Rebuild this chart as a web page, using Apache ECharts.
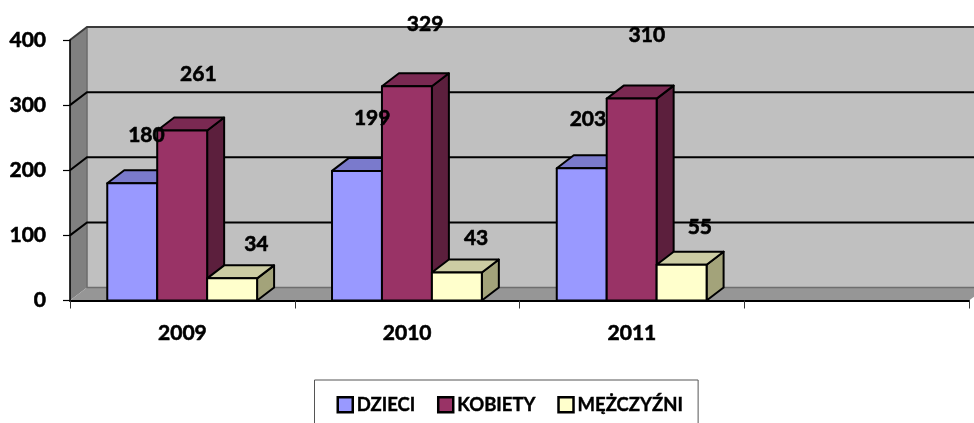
<!DOCTYPE html>
<html><head><meta charset="utf-8">
<style>html,body{margin:0;padding:0;background:#fff;overflow:hidden}#c{width:974px;height:423px}</style>
<script src="https://cdn.jsdelivr.net/npm/echarts@6/dist/echarts.min.js"></script>
</head><body><div id="c"></div>
<script>
const categories = ['2009', '2010', '2011', ''];
const seriesNames = ['DZIECI', 'KOBIETY', 'MĘŻCZYŹNI'];
const dzieci = [180, 199, 203];
const kobiety = [261, 329, 310];
const mezczyzni = [34, 43, 55];
const yTicks = [0, 100, 200, 300, 400];

// layout and style constants
const allValues = [dzieci, kobiety, mezczyzni];
const colors = ['#9999FF', '#993366', '#FFFFCC'];
const topColors = ['#7A7ACC', '#7A2952', '#CCCCA3'];
const sideColors = ['#5C5C99', '#5C1F3D', '#A3A37A'];
const DX = 17, DY = -13, BAR_RATIO = 2 / 9, BAR_NUDGE = -0.2;
// hand-placed label offsets from the top-centre of each bar's front face
const labelShift = [
  [[14, -48], [15, -53], [6, -49]],
  [[16, -56], [18, -62], [15, -63]],
  [[24, -34], [19, -34], [18, -37]]
];
const FONT = 'Lato, "Open Sans", sans-serif';

function band(api) { return api.size([1, 0])[0]; }

function wallItem(params, api) {
  const b = band(api);
  const x0 = api.coord([0, 0])[0] - b / 2;
  const x1 = api.coord([categories.length - 1, 0])[0] + b / 2;
  const y0 = api.coord([0, yTicks[0]])[1];
  const yT = api.coord([0, yTicks[yTicks.length - 1]])[1];
  const kids = [
    { type: 'polygon', shape: { points: [[x0 + DX, y0 + DY], [x1 + DX, y0 + DY], [x1 + DX, yT + DY], [x0 + DX, yT + DY]] }, style: { fill: '#C0C0C0' } },
    { type: 'polygon', shape: { points: [[x0, y0], [x0 + DX, y0 + DY], [x0 + DX, yT + DY], [x0, yT]] }, style: { fill: '#808080' } },
    { type: 'polygon', shape: { points: [[x0, y0], [x1, y0], [x1 + DX, y0 + DY], [x0 + DX, y0 + DY]] }, style: { fill: '#969696' } },
    { type: 'polyline', shape: { points: [[x0 + DX, yT + DY], [x0 + DX, y0 + DY], [x1 + DX, y0 + DY]] }, style: { fill: 'none', stroke: '#6e6e6e', lineWidth: 1.6 } }
  ];
  yTicks.slice(1).forEach(t => {
    const y = api.coord([0, t])[1];
    kids.push({ type: 'polyline', shape: { points: [[x0, y], [x0 + DX, y + DY], [x1 + DX, y + DY]] },
      style: { fill: 'none', stroke: t === yTicks[yTicks.length - 1] ? '#3a3a3a' : '#000', lineWidth: 2 } });
  });
  return { type: 'group', children: kids };
}

function barItem(s) {
  return function (params, api) {
    const b = band(api), w = b * BAR_RATIO;
    const c = api.coord([api.value(0), api.value(1)]);
    const y0 = api.coord([api.value(0), 0])[1];
    const xl = c[0] + BAR_NUDGE + (s - 1.5) * w, xr = xl + w, yt = c[1];
    const st = f => ({ fill: f, stroke: '#000', lineWidth: 2, lineJoin: 'round' });
    return { type: 'group', children: [
      { type: 'polygon', shape: { points: [[xr, yt], [xr + DX, yt + DY], [xr + DX, y0 + DY], [xr, y0]] }, style: st(sideColors[s]) },
      { type: 'polygon', shape: { points: [[xl, yt], [xr, yt], [xr + DX, yt + DY], [xl + DX, yt + DY]] }, style: st(topColors[s]) },
      { type: 'rect', shape: { x: xl, y: yt, width: w, height: y0 - yt }, style: st(colors[s]) }
    ] };
  };
}

function labelItem(params, api) {
  const s = api.value(2), i = api.value(0);
  const c = api.coord([i, api.value(1)]);
  const w = band(api) * BAR_RATIO;
  const sh = labelShift[s][i];
  return { type: 'text', x: c[0] + (s - 1) * w + sh[0], y: c[1] + sh[1],
    style: { text: String(api.value(1)), font: 'bold 21px ' + FONT, fill: '#000', stroke: '#000', lineWidth: 0.6, align: 'center', verticalAlign: 'middle' } };
}

const labelRows = [];
allValues.forEach((vals, s) => vals.forEach((v, i) => labelRows.push([i, v, s])));

const series = [
  { type: 'custom', name: 'walls', silent: true, z: 1, renderItem: wallItem, data: [[0, 0]], encode: { x: 0, y: 1 }, clip: false }
];
seriesNames.forEach((n, s) => series.push({
  type: 'custom', name: n, z: 3 + s, renderItem: barItem(s),
  itemStyle: { color: colors[s] }, encode: { x: 0, y: 1 },
  data: allValues[s].map((v, i) => [i, v])
}));
series.push({ type: 'custom', name: 'labels', z: 8, silent: true, renderItem: labelItem, encode: { x: 0, y: 1 }, data: labelRows });

const chart = echarts.init(document.getElementById('c'), null, { renderer: 'canvas', width: 974, height: 423 });
chart.setOption({
  animation: false,
  backgroundColor: '#fff',
  textStyle: { fontFamily: FONT },
  grid: { left: 70, right: 5, top: 40, bottom: 122.5, containLabel: false },
  xAxis: {
    type: 'category', data: categories, z: 10,
    axisLine: { lineStyle: { color: '#000', width: 2 } },
    axisTick: { show: true, alignWithLabel: false, length: 8, lineStyle: { color: '#333', width: 1 } },
    axisLabel: { color: '#000', fontWeight: 'bold', fontSize: 21, margin: 22, fontFamily: FONT, interval: 0, textBorderColor: '#000', textBorderWidth: 0.6 },
    splitLine: { show: false }
  },
  yAxis: {
    type: 'value', min: 0, max: 400, interval: 100, z: 10,
    axisLine: { show: true, lineStyle: { color: '#000', width: 1.6 } },
    axisTick: { show: true, length: 7, lineStyle: { color: '#000', width: 1.2 } },
    axisLabel: { color: '#000', fontWeight: 'bold', fontSize: 21, margin: 24, fontFamily: FONT, textBorderColor: '#000', textBorderWidth: 0.6 },
    splitLine: { show: false }
  },
  legend: {
    show: true, left: 314.5, top: 380, orient: 'horizontal',
    padding: [15, 15, 30, 22], itemGap: 21.5, itemWidth: 15, itemHeight: 15,
    backgroundColor: '#fff', borderColor: '#555', borderWidth: 1,
    selectedMode: false, icon: 'rect',
    textStyle: { color: '#000', fontWeight: 'bold', fontSize: 18.5, fontFamily: FONT, padding: [0, 0, 0, -1], textBorderColor: '#000', textBorderWidth: 0.4 },
    data: seriesNames.map((n, s) => ({ name: n, icon: 'rect', itemStyle: { color: colors[s], borderColor: '#000', borderWidth: 2.5 } }))
  },
  series: series
});
</script></body></html>
